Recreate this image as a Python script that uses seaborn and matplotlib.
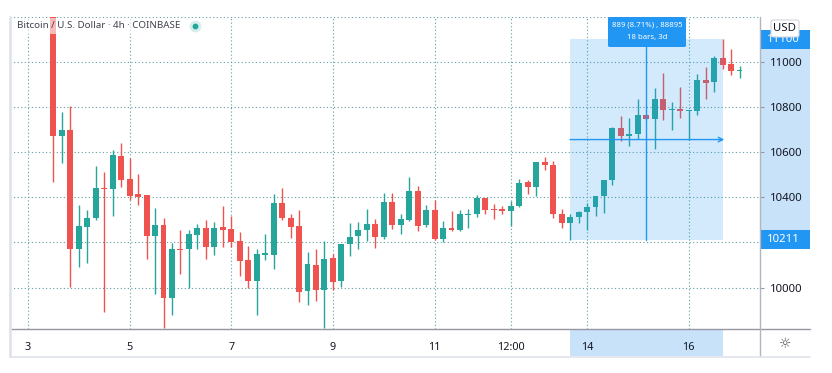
import numpy as np
import pandas as pd
import matplotlib
matplotlib.use("Agg")
import matplotlib.pyplot as plt
import matplotlib.transforms as mtransforms
from matplotlib.patches import Rectangle, FancyBboxPatch
from matplotlib.lines import Line2D
import seaborn as sns

# ---------------- data (4h candles, index 0 = day 3 00:00) ----------------
bar_index = list(range(3, 85))
opens = [11390, 10671, 10698, 10171, 10270, 10307, 10441, 10437, 10583, 10482,
         10414, 10410, 10227, 10277, 9953, 10171, 10170, 10234, 10262, 10178,
         10267, 10260, 10206, 10122, 10031, 10146, 10146, 10374, 10310, 10272,
         9983, 10100, 9988, 10130, 10031, 10193, 10228, 10254, 10282, 10225,
         10377, 10276, 10298, 10426, 10276, 10342, 10215, 10263, 10254, 10322,
         10325, 10395, 10347, 10348, 10339, 10361, 10468, 10445, 10556, 10544,
         10326, 10284, 10311, 10336, 10355, 10405, 10476, 10705, 10672, 10680,
         10764, 10745, 10835, 10786, 10790, 10783, 10783, 10919, 10911, 11015,
         10990, 10958]
highs = [11420, 10779, 10804, 10366, 10344, 10538, 10513, 10609, 10639, 10572,
         10503, 10412, 10351, 10307, 10199, 10255, 10255, 10282, 10299, 10289,
         10363, 10317, 10248, 10184, 10171, 10237, 10414, 10440, 10325, 10342,
         10159, 10171, 10207, 10147, 10195, 10288, 10289, 10349, 10306, 10420,
         10420, 10327, 10489, 10452, 10364, 10389, 10295, 10338, 10342, 10349,
         10412, 10398, 10371, 10360, 10382, 10483, 10478, 10558, 10579, 10562,
         10349, 10328, 10338, 10373, 10407, 10478, 10712, 10759, 10749, 10835,
         10770, 10882, 10951, 10823, 10886, 10788, 10945, 10975, 11025, 11100,
         11056, 10981]
lows = [10469, 10553, 10004, 10093, 10111, 10300, 9894, 10319, 10447, 10388,
        10366, 10127, 9970, 9820, 9879, 10059, 10000, 10170, 10127, 10145,
        10181, 10181, 10052, 10000, 9879, 10122, 10083, 10298, 10222, 9935,
        9922, 9939, 9820, 9988, 10005, 10141, 10169, 10207, 10174, 10215,
        10259, 10237, 10295, 10251, 10270, 10212, 10200, 10252, 10251, 10266,
        10313, 10325, 10305, 10325, 10272, 10358, 10415, 10404, 10521, 10308,
        10266, 10211, 10287, 10255, 10318, 10331, 10454, 10650, 10628, 10658,
        10740, 10613, 10742, 10697, 10749, 10653, 10764, 10833, 10867, 10966,
        10941, 10929]
closes = [10671, 10698, 10171, 10273, 10308, 10441, 10437, 10587, 10478, 10407,
          10403, 10229, 10277, 9953, 10171, 10167, 10236, 10262, 10178, 10262,
          10255, 10202, 10119, 10031, 10149, 10155, 10376, 10308, 10269, 9980,
          10105, 9988, 10127, 10027, 10193, 10225, 10254, 10282, 10225, 10380,
          10276, 10303, 10426, 10273, 10342, 10215, 10263, 10254, 10325, 10328,
          10395, 10345, 10344, 10339, 10363, 10464, 10445, 10555, 10543, 10326,
          10284, 10311, 10336, 10355, 10405, 10476, 10705, 10672, 10680, 10764,
          10745, 10835, 10786, 10790, 10782, 10786, 10919, 10907, 11015, 10985,
          10960, 10963]

price_ticks = [10000, 10200, 10400, 10600, 10800, 11000]
price_labels = ["10000", "", "10400", "10600", "10800", "11000"]
time_ticks = [0, 12, 24, 36, 48, 57, 66, 78]
time_labels = ["3", "5", "7", "9", "11", "12:00", "14", "16"]

measure_start, measure_end = 64, 82
measure_low, measure_high = 10211, 11100
measure_text = ["889 (8.71%) , 88895", "18 bars, 3d"]
title = "Bitcoin / U.S. Dollar \u00b7 4h \u00b7 COINBASE"

df = pd.DataFrame({"i": bar_index, "open": opens, "high": highs,
                   "low": lows, "close": closes})

# ---------------- style ----------------
sns.set_theme(style="white")
plt.rcParams["font.family"] = ["Noto Sans", "DejaVu Sans"]

GREEN = "#26a69a"
RED = "#ef5350"
BLUE = "#2196f3"
TXT = "#131722"

W, H = 832, 373
fig = plt.figure(figsize=(W / 100, H / 100), dpi=100)
fig.patch.set_facecolor("white")

def fx(px):
    return px / W

def fy(py):
    return 1 - py / H

L, R, T, B = 10, 760, 17, 329
ax = fig.add_axes([fx(L), fy(B), fx(R) - fx(L), fy(T) - fy(B)])
ax.set_facecolor("white")
ax.set_xlim(-2.125, 86.42)
ax.set_ylim(9817, 11198)
for s in ax.spines.values():
    s.set_visible(False)

# grid
grid_kw = dict(color="#5f9ea3", lw=0.8, linestyle=(0, (1, 2.2)), zorder=0.6)
for p in price_ticks + [11200]:
    ax.axhline(p, **grid_kw)
for t in time_ticks:
    ax.axvline(t, **grid_kw)

# candles
up = df["close"] >= df["open"]
cols = np.where(up, GREEN, RED)
ax.vlines(df["i"], df["low"], df["high"], colors=cols, lw=1.0, zorder=2)
body_bottom = np.minimum(df["open"], df["close"])
body_h = np.maximum(np.abs(df["close"] - df["open"]), 4.5)
ax.bar(df["i"], body_h, bottom=body_bottom, width=0.7, color=cols,
       linewidth=0, zorder=3)

# measurement overlay
ax.add_patch(Rectangle((measure_start, measure_low), measure_end - measure_start,
                       measure_high - measure_low, facecolor=BLUE, alpha=0.2,
                       edgecolor="none", zorder=4))
mid_i = (measure_start + measure_end) / 2
mid_p = (measure_low + measure_high) / 2
ax.annotate("", xy=(measure_end + 0.2, mid_p), xytext=(measure_start, mid_p),
            arrowprops=dict(arrowstyle="->", color=BLUE, lw=1.0,
                            shrinkA=0, shrinkB=0, mutation_scale=8), zorder=5)
ax.plot([mid_i, mid_i], [measure_low, 11070], color=BLUE, lw=1.0, zorder=5)

# label box
box = FancyBboxPatch((fx(608), fy(47)), fx(686) - fx(608), fy(17) - fy(47),
                     boxstyle="round,pad=0,rounding_size=0.003",
                     transform=fig.transFigure, facecolor=BLUE,
                     edgecolor="none", zorder=10)
fig.patches.append(box)
fig.text(fx(647), fy(25.5), measure_text[0], color="white", fontsize=5.6,
         ha="center", va="center", zorder=11)
fig.text(fx(647), fy(38), measure_text[1], color="white", fontsize=5.6,
         ha="center", va="center", zorder=11)

# price axis
ax.yaxis.tick_right()
ax.set_yticks(price_ticks)
ax.set_yticklabels(price_labels)
ax.tick_params(axis="y", direction="out", length=3, width=0.8,
               color="#9598a1", pad=4, labelsize=8.2, labelcolor=TXT)
# time axis
ax.set_xticks(time_ticks)
ax.set_xticklabels(time_labels)
ax.tick_params(axis="x", direction="out", length=0, pad=9,
               labelsize=7.8, labelcolor=TXT)

# price-axis highlight band
btr = mtransforms.blended_transform_factory(fig.transFigure, ax.transData)
ax.add_patch(Rectangle((fx(R), measure_low), fx(810) - fx(R),
                       measure_high - measure_low, transform=btr,
                       facecolor="#c8e2fa", edgecolor="none", clip_on=False,
                       zorder=0.2))
for val in (measure_high, measure_low):
    ax.add_patch(Rectangle((fx(R), val - 42), fx(810) - fx(R), 84,
                           transform=btr, facecolor=BLUE, edgecolor="none",
                           clip_on=False, zorder=6))
    ax.text(fx(767), val, str(val), transform=btr, color="white",
            fontsize=8.2, ha="left", va="center", clip_on=False, zorder=7)

# time-axis highlight band
ttr = mtransforms.blended_transform_factory(ax.transData, fig.transFigure)
ax.add_patch(Rectangle((measure_start, fy(356)), measure_end - measure_start,
                       fy(B) - fy(356), transform=ttr, facecolor="#c8e2fa",
                       edgecolor="none", clip_on=False, zorder=0.2))

# frame lines
fig.lines.append(Line2D([fx(L), fx(810)], [fy(B), fy(B)], color="#9598a1",
                        lw=1.0, transform=fig.transFigure))
fig.lines.append(Line2D([fx(R), fx(R)], [fy(T), fy(356)], color="#b2b5be",
                        lw=1.0, transform=fig.transFigure))
fig.lines.append(Line2D([fx(L), fx(810)], [fy(356.5), fy(356.5)],
                        color="#e0e3eb", lw=1.2, transform=fig.transFigure))
fig.lines.append(Line2D([fx(L), fx(L)], [fy(T), fy(356)], color="#e0e3eb",
                        lw=2.0, transform=fig.transFigure))

# USD box
usd = FancyBboxPatch((fx(771), fy(37)), fx(799) - fx(771), fy(20) - fy(37),
                     boxstyle="round,pad=0,rounding_size=0.004",
                     transform=fig.transFigure, facecolor="white",
                     edgecolor="#d1d4dc", lw=0.8, zorder=12)
fig.patches.append(usd)
fig.text(fx(785), fy(28.5), "USD", color=TXT, fontsize=8.2, ha="center",
         va="center", zorder=13)

# header
fig.text(fx(17), fy(26), title, color="#40434c", fontsize=7.0, ha="left",
         va="center", zorder=12,
         bbox=dict(facecolor="white", alpha=0.6, edgecolor="none", pad=2.5))
fig.lines.append(Line2D([fx(195)], [fy(26)], marker="o", ms=8.5,
                        color="#d6efec", mec="none", transform=fig.transFigure,
                        zorder=12))
fig.lines.append(Line2D([fx(195)], [fy(26)], marker="o", ms=4.2,
                        color=GREEN, mec="none", transform=fig.transFigure,
                        zorder=13))

# settings icon
fig.text(fx(785), fy(343.5), "\u263c", color="#50535e", fontsize=10,
         ha="center", va="center", family="DejaVu Sans")

fig.savefig("out.png", dpi=100)
